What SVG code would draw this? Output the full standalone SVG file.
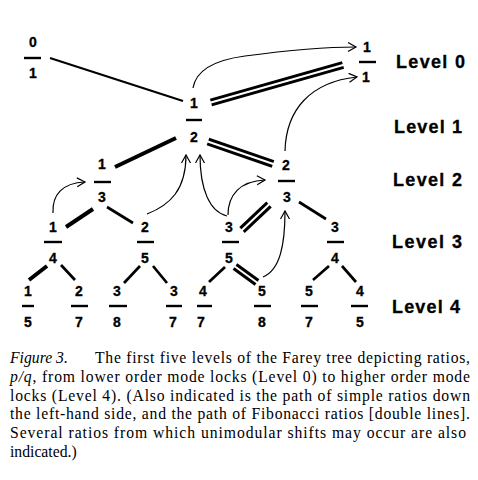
<svg xmlns="http://www.w3.org/2000/svg" width="478" height="480" viewBox="0 0 478 480">
<style>
.d{font-family:"Liberation Sans",Arial,sans-serif;font-weight:bold;font-size:14px;text-anchor:middle;fill:#000;stroke:#000;stroke-width:0.3}
.lv{font-family:"Liberation Sans",Arial,sans-serif;font-weight:bold;font-size:18px;fill:#000;stroke:#000;stroke-width:0.3}
.bar{stroke:#000;stroke-width:2.4}
.e{stroke:#000;stroke-width:2.7;fill:none;stroke-linecap:butt}
.ek{stroke:#000;stroke-width:4;fill:none}
.dbo{stroke:#000;stroke-width:8;fill:none}
.dbi{stroke:#fff;stroke-width:2;fill:none}
.a{stroke:#000;stroke-width:1.2;fill:none;marker-end:url(#ah)}
.cap{font-family:"Liberation Serif","Times New Roman",serif;font-size:15.7px;fill:#000}
</style>
<defs>
<marker id="ah" markerUnits="userSpaceOnUse" markerWidth="12" markerHeight="12" refX="9" refY="5" orient="auto">
<path d="M1,0.5 L9,5 L1,9.5" fill="none" stroke="#000" stroke-width="1.2"/>
</marker>
</defs>
<g id="connectors">
<line class="e" x1="50" y1="58" x2="183" y2="101" style="stroke-width:2"/>
<line class="dbo" x1="211" y1="102.5" x2="343" y2="65"/>
<line class="dbi" x1="210" y1="102.8" x2="344" y2="64.7"/>
<line class="ek" x1="176" y1="138" x2="115" y2="167"/>
<line class="dbo" x1="208" y1="141.5" x2="273" y2="164"/>
<line class="dbi" x1="207" y1="141.2" x2="274" y2="164.3"/>
<line class="ek" x1="93" y1="209" x2="66" y2="227"/>
<line class="e" x1="107" y1="207" x2="133" y2="223"/>
<line class="dbo" x1="269" y1="204.5" x2="242" y2="230"/>
<line class="dbi" x1="269.7" y1="203.8" x2="241.3" y2="230.7"/>
<line class="e" x1="299" y1="202" x2="326" y2="219"/>
<line class="ek" x1="47" y1="266" x2="29" y2="280"/>
<line class="e" x1="61" y1="265" x2="75" y2="280"/>
<line class="e" x1="140" y1="266" x2="124" y2="283"/>
<line class="e" x1="153" y1="266" x2="167" y2="283"/>
<line class="e" x1="225" y1="267" x2="209" y2="282"/>
<line class="dbo" x1="235" y1="266.5" x2="257" y2="282.5"/>
<line class="dbi" x1="234.3" y1="266" x2="257.7" y2="283"/>
<line class="e" x1="329" y1="266" x2="313" y2="280"/>
<line class="e" x1="342" y1="266" x2="356" y2="282"/>
<path class="a" d="M193,88 C196,70 215,60 245,56 S320,47 356,47"/>
<path class="a" d="M285,151 C286,110 310,82 357,77"/>
<path class="a" d="M147,214 C170,205 186,190 186,155"/>
<path class="a" d="M227,216 C210,212 200,190 200,155"/>
<path class="a" d="M228,215 C228,195 240,181 265,180"/>
<path class="a" d="M53,213 C52,195 62,183 85,182"/>
<path class="a" d="M263,277 C280,270 285,245 285,211"/>
</g>
<g id="n0_1"><text class="d" x="33" y="47">0</text><line class="bar" x1="24" y1="58" x2="41" y2="58"/><text class="d" x="33" y="78">1</text></g>
<g id="n1_1"><text class="d" x="367" y="52">1</text><line class="bar" x1="359" y1="62" x2="376" y2="62"/><text class="d" x="366" y="82">1</text></g>
<g id="n1_2"><text class="d" x="194" y="108">1</text><line class="bar" x1="186" y1="120" x2="202" y2="120"/><text class="d" x="194" y="142">2</text></g>
<g id="n1_3"><text class="d" x="102" y="169">1</text><line class="bar" x1="94" y1="182" x2="111" y2="182"/><text class="d" x="102" y="202">3</text></g>
<g id="n2_3"><text class="d" x="286" y="170">2</text><line class="bar" x1="278" y1="181" x2="295" y2="181"/><text class="d" x="287" y="202">3</text></g>
<g id="n1_4"><text class="d" x="53" y="232">1</text><line class="bar" x1="44" y1="242" x2="62" y2="242"/><text class="d" x="53" y="263">4</text></g>
<g id="n2_5"><text class="d" x="145" y="232">2</text><line class="bar" x1="137" y1="242" x2="154" y2="242"/><text class="d" x="145" y="263">5</text></g>
<g id="n3_5"><text class="d" x="229" y="232">3</text><line class="bar" x1="222" y1="242" x2="239" y2="242"/><text class="d" x="229" y="263">5</text></g>
<g id="n3_4"><text class="d" x="335" y="232">3</text><line class="bar" x1="327" y1="242" x2="344" y2="242"/><text class="d" x="335" y="263">4</text></g>
<g id="n1_5"><text class="d" x="28" y="296">1</text><line class="bar" x1="22" y1="306" x2="34" y2="306"/><text class="d" x="28" y="327">5</text></g>
<g id="n2_7"><text class="d" x="79" y="296">2</text><line class="bar" x1="71" y1="306" x2="88" y2="306"/><text class="d" x="79" y="327">7</text></g>
<g id="n3_8"><text class="d" x="117" y="296">3</text><line class="bar" x1="109" y1="306" x2="127" y2="306"/><text class="d" x="117" y="327">8</text></g>
<g id="n3_7"><text class="d" x="174" y="296">3</text><line class="bar" x1="166" y1="306" x2="182" y2="306"/><text class="d" x="173" y="327">7</text></g>
<g id="n4_7"><text class="d" x="203" y="296">4</text><line class="bar" x1="197" y1="306" x2="212" y2="306"/><text class="d" x="201" y="327">7</text></g>
<g id="n5_8"><text class="d" x="262" y="296">5</text><line class="bar" x1="254" y1="306" x2="271" y2="306"/><text class="d" x="262" y="327">8</text></g>
<g id="n5_7"><text class="d" x="309" y="296">5</text><line class="bar" x1="301" y1="306" x2="318" y2="306"/><text class="d" x="309" y="327">7</text></g>
<g id="n4_5"><text class="d" x="360" y="296">4</text><line class="bar" x1="351" y1="306" x2="368" y2="306"/><text class="d" x="360" y="327">5</text></g>
<g id="levels">
<text class="lv" x="396" y="68" textLength="69" lengthAdjust="spacing">Level 0</text>
<text class="lv" x="394" y="133" textLength="68" lengthAdjust="spacing">Level 1</text>
<text class="lv" x="393" y="186" textLength="69" lengthAdjust="spacing">Level 2</text>
<text class="lv" x="392" y="248" textLength="70" lengthAdjust="spacing">Level 3</text>
<text class="lv" x="392" y="313" textLength="68" lengthAdjust="spacing">Level 4</text>
</g>
<g id="caption">
<text class="cap" x="10" y="363" font-style="italic">Figure 3.</text>
<text class="cap" x="95" y="363" textLength="375" lengthAdjust="spacing">The first five levels of the Farey tree depicting ratios,</text>
<text class="cap" x="10" y="381.8" textLength="460" lengthAdjust="spacing"><tspan font-style="italic">p/q</tspan>, from lower order mode locks (Level 0) to higher order mode</text>
<text class="cap" x="10" y="400.6" textLength="460" lengthAdjust="spacing">locks (Level 4). (Also indicated is the path of simple ratios down</text>
<text class="cap" x="10" y="419.4" textLength="460" lengthAdjust="spacing">the left-hand side, and the path of Fibonacci ratios [double lines].</text>
<text class="cap" x="10" y="438.2" textLength="456" lengthAdjust="spacing">Several ratios from which unimodular shifts may occur are also</text>
<text class="cap" x="10" y="457">indicated.)</text>
</g>
</svg>
